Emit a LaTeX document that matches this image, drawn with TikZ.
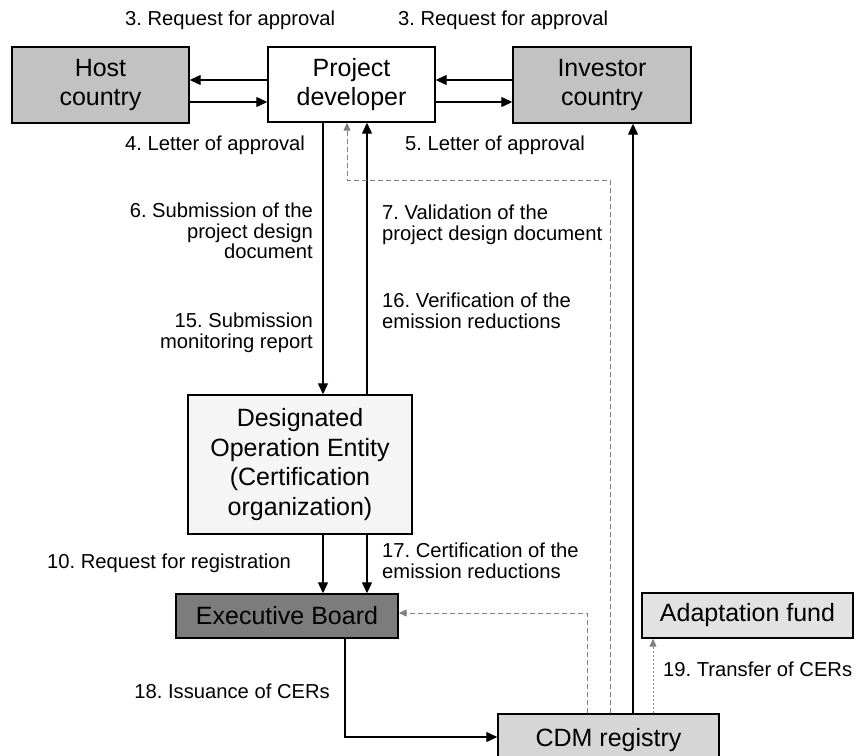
\documentclass[tikz,border=0pt]{standalone}
\usepackage{fontspec}
\setmainfont{Liberation Sans}
\frenchspacing
\usetikzlibrary{arrows.meta}
\definecolor{hostgray}{HTML}{C2C2C2}
\definecolor{boardgray}{HTML}{7C7C7C}
\definecolor{fundgray}{HTML}{E2E2E2}
\definecolor{cdmgray}{HTML}{D6D6D6}
\definecolor{doegray}{HTML}{F5F5F5}
\tikzset{
  box/.style={draw, line width=1.4pt, align=center, inner sep=0pt, font=\fontsize{25}{29.5}\selectfont},
  note/.style={inner sep=0pt, font=\fontsize{20.2}{20.5}\selectfont},
  flow/.style={line width=1.2pt, -{Triangle[length=11pt,width=10pt]}},
  hint/.style={gray, line width=1pt, dash pattern=on 5pt off 3pt, -{Triangle[length=8pt,width=7pt]}},
  faint/.style={hint, dash pattern=on 2pt off 2pt}
}

\begin{document}
\begin{tikzpicture}[x=1pt,y=-1pt]
  \clip (0,0) rectangle (856,755);
  % boxes
  \node[box, fill=hostgray, minimum width=177pt, minimum height=76pt] (host) at (100.5,85) {Host\\country};
  \node[box, fill=white, minimum width=167pt, minimum height=75pt] (dev) at (351.5,84.5) {Project\\developer};
  \node[box, fill=hostgray, minimum width=178pt, minimum height=76pt] (inv) at (602,85) {Investor\\country};
  \node[box, fill=doegray, minimum width=224pt, minimum height=139pt] (doe) at (300,464.5) {Designated\\Operation Entity\\(Certification\\organization)};
  \node[box, fill=boardgray, minimum width=222pt, minimum height=44pt] (eb) at (287,616) {Executive Board};
  \node[box, fill=fundgray, minimum width=211pt, minimum height=45pt] (fund) at (747.5,615.5) {Adaptation fund};
  \node[box, fill=cdmgray, minimum width=221pt, minimum height=52pt] (cdm) at (608.5,740) {CDM registry};
  % lanes and rows
  \coordinate (rowA) at (0,80);
  \coordinate (rowB) at (0,102);
  \coordinate (rowE) at (0,737);
  \coordinate (laneA) at (323,0);
  \coordinate (laneB) at (347,0);
  \coordinate (laneC) at (367,0);
  \coordinate (laneE) at (345,0);
  \coordinate (laneI) at (633,0);
  \coordinate (laneF) at (653,0);
  \coordinate (turnD) at (610,180);
  \coordinate (turnB) at (587,613);
  % approvals
  \draw[flow] (rowA -| dev.west) -- (rowA -| host.east);
  \draw[flow] (rowB -| host.east) -- (rowB -| dev.west);
  \draw[flow] (rowA -| inv.west) -- (rowA -| dev.east);
  \draw[flow] (rowB -| dev.east) -- (rowB -| inv.west);
  % validation and verification
  \draw[flow] (dev.south -| laneA) -- (doe.north -| laneA);
  \draw[flow] (doe.north -| laneC) -- (dev.south -| laneC);
  \draw[flow] (doe.south -| laneA) -- (eb.north -| laneA);
  \draw[flow] (doe.south -| laneC) -- (eb.north -| laneC);
  % issuance and transfer
  \draw[flow] (eb.south -| laneE) |- (cdm.west |- rowE);
  \draw[flow] (cdm.north -| laneI) -- (inv.south -| laneI);
  \draw[hint] (cdm.north -| turnD) -- (turnD) -| (dev.south -| laneB);
  \draw[hint] (cdm.north -| turnB) -- (turnB) -- (eb.east |- turnB);
  \draw[faint] (cdm.north -| laneF) -- (fund.south -| laneF);
  % labels
  \node[note, anchor=west] (req1) at (125,20) {3. Request for approval};
  \node[note, anchor=west] (req2) at (398,20) {3. Request for approval};
  \node[note, anchor=west] (let1) at (125,145) {4. Letter of approval};
  \node[note, anchor=west] (let2) at (405,145) {5. Letter of approval};
  \node[note, anchor=east, align=right] (sub6) at (313,231) {6. Submission of the\\project design\\document};
  \node[note, anchor=east, align=right] (sub15) at (313,333) {15. Submission\\monitoring report};
  \node[note, anchor=west, align=left] (val7) at (382,225) {7. Validation of the\\project design document};
  \node[note, anchor=west, align=left] (ver16) at (382,311) {16. Verification of the\\emission reductions};
  \node[note, anchor=west] (reg10) at (47,563) {10. Request for registration};
  \node[note, anchor=west, align=left] (cert17) at (382,561) {17. Certification of the\\emission reductions};
  \node[note, anchor=east] (iss18) at (330,691) {18. Issuance of CERs};
  \node[note, anchor=west] (tr19) at (663,669) {19. Transfer of CERs};
\end{tikzpicture}
\end{document}
